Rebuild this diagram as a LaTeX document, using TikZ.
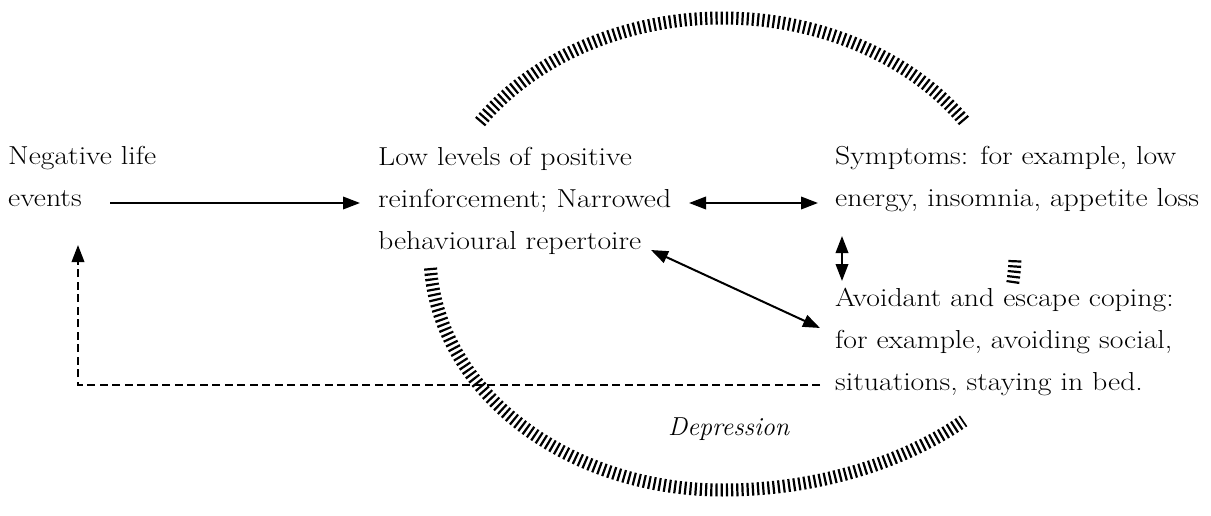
\documentclass[tikz,border=0pt]{standalone}
\usepackage{fontspec}
\setmainfont{Latin Modern Roman}[FakeStretch=1.145]
\newfontfamily\depfamily{Latin Modern Roman}
\usetikzlibrary{arrows.meta}
\begin{document}
\begin{tikzpicture}[x=1pt,y=-1pt,
  txt/.style={anchor=base west, inner sep=0pt, align=left, font=\fontsize{26}{42}\selectfont},
  arr/.style={line width=2pt, -{Triangle[length=17pt,width=12.5pt]}},
  darr/.style={line width=2pt, {Triangle[length=17pt,width=12.5pt]}-{Triangle[length=17pt,width=12.5pt]}},
  dashline/.style={line width=2pt, dash pattern=on 8pt off 4.5pt, -{Triangle[length=17pt,width=12.5pt]}},
  ticks/.style={line width=13pt, dash pattern=on 2.2pt off 3pt}]
\useasboundingbox (0,0) rectangle (1211,516);

% hatched depression ring
\coordinate (ringc) at (722.5,254);
\draw[ticks] (ringc) ++(-146:292.5 and 236) arc[start angle=-146,end angle=-34,x radius=292.5,y radius=236];
\draw[ticks] (ringc) ++(176.6:292.5 and 236) arc[start angle=176.6,end angle=90,x radius=292.5,y radius=236]
  arc[start angle=90,end angle=45,x radius=341,y radius=236];
\draw[ticks] (ringc) ++(1.5:292.5 and 236) arc[start angle=1.5,end angle=7.5,x radius=292.5,y radius=236];

% texts (base anchor = baseline of the last line)
\node[txt] (neg) at (8,207) {Negative life\\events};
\node[txt] (low) at (378,249) {Low levels of positive\\reinforcement; Narrowed\\behavioural repertoire};
\node[txt] (sym) at (835,207) {Symptoms: for example, low\\energy, insomnia, appetite loss};
\node[txt] (avo) at (835,390) {Avoidant and escape coping:\\for example, avoiding social,\\situations, staying in bed.};
\node[txt, font=\fontsize{26}{42}\depfamily\itshape] (dep) at (668,435) {Depression};

% connector end points
\coordinate (negout) at (110,203);
\coordinate (lowin) at (360,203);
\coordinate (lowright) at (689,203);
\coordinate (symleft) at (818,203);
\coordinate (symbelow) at (842,236);
\coordinate (avoabove) at (842,281);
\coordinate (lowbelow) at (651,250);
\coordinate (avoleft) at (820,328);
\coordinate (avofb) at (820,385);
\coordinate (negbelow) at (78,245);

\draw[arr] (negout) -- (lowin);
\draw[darr] (lowright) -- (symleft);
\draw[darr] (symbelow) -- (avoabove);
\draw[darr] (lowbelow) -- (avoleft);
\draw[dashline] (avofb) -| (negbelow);
\end{tikzpicture}
\end{document}
